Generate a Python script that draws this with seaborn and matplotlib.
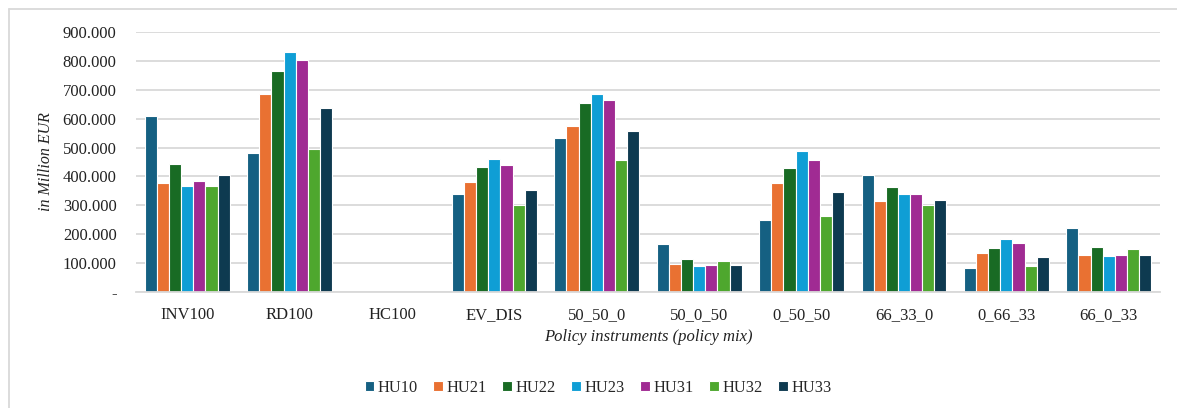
import matplotlib
matplotlib.use("Agg")
import matplotlib.pyplot as plt
import matplotlib.ticker as mticker
from matplotlib.lines import Line2D
import seaborn as sns
import pandas as pd

# Policy mixes (x categories) and regions (series)
policies = ["INV100", "RD100", "HC100", "EV_DIS", "50_50_0", "50_0_50",
            "0_50_50", "66_33_0", "0_66_33", "66_0_33"]
regions = ["HU10", "HU21", "HU22", "HU23", "HU31", "HU32", "HU33"]

# Values in million EUR, one list per region (in policy order)
hu10 = [608, 480, 0, 339, 532, 167, 249, 405, 84, 222]
hu21 = [377, 684, 0, 381, 573, 98, 377, 315, 135, 128]
hu22 = [443, 764, 0, 433, 653, 115, 428, 362, 153, 157]
hu23 = [367, 830, 0, 459, 684, 91, 487, 339, 183, 126]
hu31 = [384, 804, 0, 440, 663, 95, 456, 339, 170, 128]
hu32 = [367, 495, 0, 301, 456, 108, 263, 301, 91, 150]
hu33 = [405, 637, 0, 353, 556, 95, 346, 318, 122, 128]

yticks = [0, 100, 200, 300, 400, 500, 600, 700, 800, 900]

colors = ["#156082", "#E97132", "#196B24", "#0F9ED5", "#A02B93", "#4EA72E", "#0E3A50"]

series = [hu10, hu21, hu22, hu23, hu31, hu32, hu33]
df = pd.DataFrame(
    [(p, r, v) for r, vals in zip(regions, series) for p, v in zip(policies, vals)],
    columns=["policy", "region", "value"],
)

sns.set_theme(style="white")
plt.rcParams["font.family"] = ["Liberation Serif", "DejaVu Serif"]

fig = plt.figure(figsize=(11.77, 4.08), dpi=100)
ax = fig.add_axes([136 / 1177, 1 - 292 / 408, (1160 - 136) / 1177, (292 - 32) / 408])

sns.barplot(data=df, x="policy", y="value", hue="region", order=policies,
            hue_order=regions, palette=colors, width=0.83, saturation=1,
            edgecolor="white", linewidth=0.8, ax=ax, legend=True)

ax.set_ylim(0, 900)
ax.set_xlim(-0.5, len(policies) - 0.5)
ax.set_yticks(yticks)
ax.yaxis.set_major_formatter(mticker.FuncFormatter(
    lambda v, _: "-" if v == 0 else f"{int(v)}.000"))
ax.grid(axis="y", color="#d9d9d9", linewidth=1.3)
ax.set_axisbelow(True)
for side in ["top", "right", "left"]:
    ax.spines[side].set_visible(False)
ax.spines["bottom"].set_color("#d9d9d9")
ax.spines["bottom"].set_linewidth(1.3)
ax.tick_params(axis="both", length=0, labelsize=12, colors="#222222")
ax.tick_params(axis="x", pad=11)
ax.tick_params(axis="y", pad=14)

ax.set_xlabel("Policy instruments (policy mix)", fontsize=12, style="italic",
              color="#222222", labelpad=4)
ax.set_ylabel("in Million EUR", fontsize=11.5, style="italic", color="#222222",
              labelpad=6)

handles, labels = ax.get_legend_handles_labels()
ax.legend_.remove()
fig.legend(handles, labels, loc="center", bbox_to_anchor=(598 / 1177, 1 - 388 / 408),
           ncol=7, frameon=False, fontsize=11.8, handlelength=0.6,
           handleheight=0.6, handletextpad=0.2, columnspacing=0.95)

# Chart frame
fig.add_artist(Line2D([8.5 / 1177, 1], [1 - 8.5 / 408, 1 - 8.5 / 408],
                      transform=fig.transFigure, color="#d9d9d9", linewidth=1.3))
fig.add_artist(Line2D([8.5 / 1177, 8.5 / 1177], [0, 1 - 8.5 / 408],
                      transform=fig.transFigure, color="#d9d9d9", linewidth=1.3))

fig.savefig("out.png", dpi=100, facecolor="white")
